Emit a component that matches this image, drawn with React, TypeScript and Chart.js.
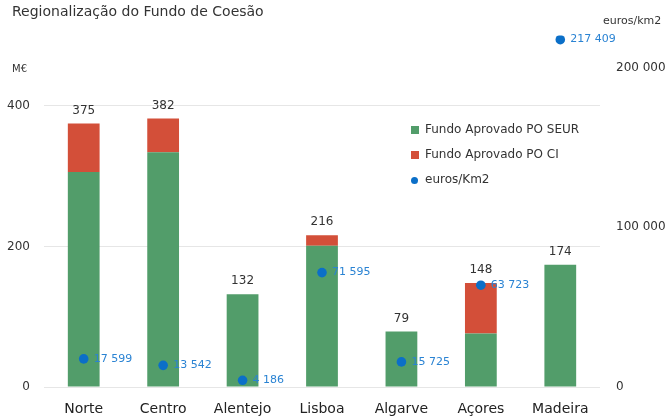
import React, { useEffect, useRef } from "react";
import { Chart, registerables } from "chart.js";

Chart.register(...registerables);

const categories = ["Norte", "Centro", "Alentejo", "Lisboa", "Algarve", "Açores", "Madeira"];
const seurValues = [306, 334, 132, 201, 79, 76, 174];
const ciValues = [69, 48, 0, 15, 0, 72, 0];
const densityValues = [17599, 13542, 4186, 71595, 15725, 63723, 217409];
const leftTicks = [0, 200, 400];
const rightTicks = [0, 100000, 200000];

const GREEN = "#529d6a";
const RED = "#d34f39";
const BLUE = "#0b6fc8";
const BLUE_TEXT = "#2a83d3";
const FONT = "'DejaVu Sans', sans-serif";

const fmt = (n: number) => String(n).replace(/\B(?=(\d{3})+(?!\d))/g, " ");

const labelPlugin = {
  id: "labels",
  afterDatasetsDraw(chart: any) {
    const ctx = chart.ctx;
    const y = chart.scales.y;
    const m0 = chart.getDatasetMeta(0);
    const m2 = chart.getDatasetMeta(2);
    ctx.save();
    ctx.font = `12px ${FONT}`;
    ctx.fillStyle = "#333";
    ctx.textAlign = "center";
    ctx.textBaseline = "bottom";
    categories.forEach((_, i) => {
      const total = seurValues[i] + ciValues[i];
      const px = m0.data[i].x;
      const py = y.getPixelForValue(total);
      ctx.fillText(String(total), px, py - 7);
    });
    ctx.font = `11px ${FONT}`;
    ctx.fillStyle = BLUE_TEXT;
    ctx.textAlign = "left";
    ctx.textBaseline = "middle";
    densityValues.forEach((v, i) => {
      const el = m2.data[i];
      ctx.fillText(fmt(v), el.x + 10, el.y);
    });
    ctx.restore();
  },
};

export default function App() {
  const ref = useRef<HTMLCanvasElement>(null);
  useEffect(() => {
    if (!ref.current) return;
    const chart = new Chart(ref.current, {
      type: "bar",
      data: {
        labels: categories,
        datasets: [
          {
            label: "Fundo Aprovado PO SEUR",
            data: seurValues,
            backgroundColor: GREEN,
            yAxisID: "y",
            stack: "s",
            order: 2,
          },
          {
            label: "Fundo Aprovado PO CI",
            data: ciValues,
            backgroundColor: RED,
            yAxisID: "y",
            stack: "s",
            order: 2,
          },
          {
            type: "line",
            label: "euros/Km2",
            data: densityValues,
            yAxisID: "y1",
            showLine: false,
            pointRadius: 4.8,
            pointBackgroundColor: BLUE,
            pointBorderWidth: 0,
            borderColor: BLUE,
            order: 0,
          } as any,
        ],
      },
      options: {
        responsive: false,
        animation: false,
        devicePixelRatio: 1,
        layout: { padding: { top: 35.5, left: 0, right: 0, bottom: 0 } },
        datasets: { bar: { barPercentage: 0.4, categoryPercentage: 1 } },
        plugins: { legend: { display: false }, tooltip: { enabled: false }, title: { display: false } },
        scales: {
          x: {
            stacked: true,
            offset: true,
            grid: { display: false },
            border: { display: false },
            ticks: { font: { family: FONT, size: 14 }, color: "#222", padding: 6, maxRotation: 0 },
            afterFit: (s: any) => {
              s.height = 43;
              s.paddingLeft = 0;
              s.paddingRight = 0;
            },
          },
          y: {
            stacked: true,
            position: "left",
            min: 0,
            max: 500,
            afterBuildTicks: (s: any) => {
              s.ticks = leftTicks.map((v) => ({ value: v }));
            },
            grid: { color: "#e6e6e6", drawTicks: false },
            border: { display: false },
            ticks: { font: { family: FONT, size: 12 }, color: "#333", padding: 14 },
            afterFit: (s: any) => {
              s.width = 44;
              s.paddingTop = 0;
              s.paddingBottom = 0;
            },
          },
          y1: {
            position: "right",
            min: 0,
            max: 220000,
            afterBuildTicks: (s: any) => {
              s.ticks = rightTicks.map((v) => ({ value: v }));
            },
            grid: { display: false, drawTicks: false },
            border: { display: false },
            ticks: {
              font: { family: FONT, size: 12 },
              color: "#333",
              padding: 16,
              callback: (v: any) => fmt(Number(v)),
            },
            afterFit: (s: any) => {
              s.width = 67;
              s.paddingTop = 0;
              s.paddingBottom = 0;
            },
          },
        },
      },
      plugins: [labelPlugin],
    });
    return () => chart.destroy();
  }, []);

  const txt: React.CSSProperties = { position: "absolute", fontFamily: FONT, color: "#333", lineHeight: 1, whiteSpace: "nowrap" };
  const legendItems = [
    { label: "Fundo Aprovado PO SEUR", color: GREEN, y: 130, round: false },
    { label: "Fundo Aprovado PO CI", color: RED, y: 155, round: false },
    { label: "euros/Km2", color: BLUE, y: 180, round: true },
  ];

  return (
    <div style={{ position: "fixed", left: 0, top: 0, width: 667, height: 430, background: "#fff" }}>
      <canvas ref={ref} width={667} height={430} style={{ position: "absolute", left: 0, top: 0 }} />
      <div style={{ ...txt, left: 12, top: 3.5, fontSize: 14 }}>Regionalização do Fundo de Coesão</div>
      <div style={{ ...txt, left: 12, top: 64, fontSize: 10 }}>M€</div>
      <div style={{ ...txt, left: 603, top: 15, fontSize: 11 }}>euros/km2</div>
      {legendItems.map((it) => (
        <div key={it.label}>
          <div
            style={{
              position: "absolute",
              left: 411,
              top: it.y - (it.round ? 3.5 : 4),
              width: it.round ? 7 : 8,
              height: it.round ? 7 : 8,
              borderRadius: it.round ? "50%" : 0,
              background: it.color,
            }}
          />
          <div style={{ ...txt, left: 425, top: it.y - 7, fontSize: 12 }}>{it.label}</div>
        </div>
      ))}
    </div>
  );
}
